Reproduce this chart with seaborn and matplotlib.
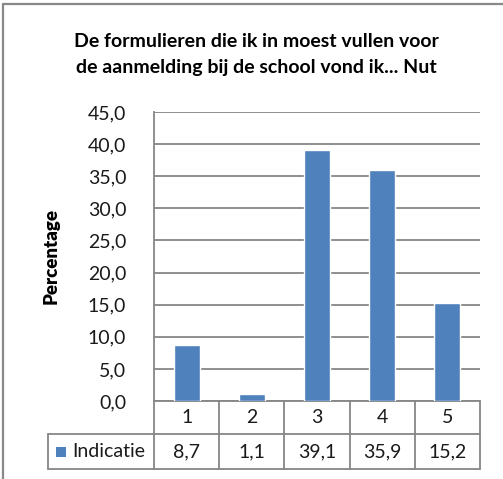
import matplotlib
matplotlib.use("Agg")
import matplotlib.pyplot as plt
import matplotlib.transforms as mtransforms
from matplotlib.patches import Rectangle
from matplotlib.lines import Line2D
import seaborn as sns
import pandas as pd

# Survey answers (scale 1-5) and share of respondents in percent
categories = ["1", "2", "3", "4", "5"]
values = [8.7, 1.1, 39.1, 35.9, 15.2]
value_labels = ["8,7", "1,1", "39,1", "35,9", "15,2"]
series_name = "Indicatie"
yticks = [0, 5, 10, 15, 20, 25, 30, 35, 40, 45]
ytick_labels = ["0,0", "5,0", "10,0", "15,0", "20,0", "25,0", "30,0", "35,0", "40,0", "45,0"]
title_lines = ["De formulieren die ik in moest vullen voor",
               "de aanmelding bij de school vond ik... Nut"]
ylabel = "Percentage"

sns.set_style("white")
plt.rcParams["font.family"] = ["Lato", "DejaVu Sans"]

W, H = 503, 479
fig = plt.figure(figsize=(W / 100, H / 100), dpi=100)

BAR = "#4F81BD"
GRID = "#868686"
FRAME = "#888888"
TXT = "#1a1a1a"
FS = 14

# Outer chart frame: only its top and left edges fall inside the figure
fig.add_artist(Line2D([3 / W, 1.0], [1 - 4 / H, 1 - 4 / H], transform=fig.transFigure,
                      color=FRAME, linewidth=1.6))
fig.add_artist(Line2D([3 / W, 3 / W], [0.0, 1 - 4 / H], transform=fig.transFigure,
                      color=FRAME, linewidth=1.6))

left, right, top, bottom = 154, 480, 112, 401
ax = fig.add_axes([left / W, (H - bottom) / H, (right - left) / W, (bottom - top) / H])

df = pd.DataFrame({"cat": categories, "val": values})
sns.barplot(data=df, x="cat", y="val", color=BAR, width=0.4, saturation=1, ax=ax, zorder=3)

ax.set_ylim(0, 45)
ax.set_xlim(-0.5, len(categories) - 0.5)
ax.set_yticks(yticks)
ax.set_yticklabels(ytick_labels, fontsize=FS)
ax.tick_params(axis="y", length=0, pad=20, labelcolor=TXT)
ax.set_xticks([])
ax.set_xlabel("")
ax.set_ylabel(ylabel, fontsize=13.5, fontweight="heavy", labelpad=20, color="black")
ax.yaxis.grid(True, color=GRID, linewidth=1.3)
ax.set_axisbelow(True)
for s in ["top", "right", "bottom"]:
    ax.spines[s].set_visible(False)
ax.spines["left"].set_color(GRID)
ax.spines["left"].set_linewidth(1.3)

# Data table under the plot area: x in data units, y in axes units
trans = mtransforms.blended_transform_factory(ax.transData, ax.transAxes)
ph = bottom - top
colw = (right - left) / len(categories)
r1 = -(434 - bottom) / ph
r2 = -(469 - bottom) / ph
x0 = -0.5
x1 = len(categories) - 0.5
xl = x0 - (left - 48) / colw

lk = dict(color=GRID, linewidth=1.3, clip_on=False, transform=trans)
ax.plot([x0, x1], [0, 0], **lk)
ax.plot([xl, x1], [r1, r1], **lk)
ax.plot([xl, x1], [r2, r2], **lk)
ax.plot([xl, xl], [r1, r2], **lk)
for i in range(len(categories) + 1):
    ax.plot([x0 + i, x0 + i], [0, r2], **lk)

for i, (c, v) in enumerate(zip(categories, value_labels)):
    ax.text(i, r1 / 2, c, ha="center", va="center", fontsize=FS, transform=trans, color=TXT)
    ax.text(i, (r1 + r2) / 2, v, ha="center", va="center", fontsize=FS, transform=trans, color=TXT)

# Legend key inside the table
ax.add_patch(Rectangle((xl + 8 / colw, (r1 + r2) / 2 - 5 / ph), 10 / colw, 10 / ph,
                       transform=trans, facecolor=BAR, edgecolor="none", clip_on=False))
ax.text(xl + 24 / colw, (r1 + r2) / 2, series_name,
        ha="left", va="center", fontsize=FS, transform=trans, color=TXT)

# Two-line chart title, baselines 26 px apart
for k, line in enumerate(title_lines):
    fig.text(256 / W, 1 - (47 + 26 * k) / H, line, ha="center", va="baseline",
             fontsize=14, fontweight="bold", color="black")

fig.savefig("out.png", dpi=100, facecolor="white")
